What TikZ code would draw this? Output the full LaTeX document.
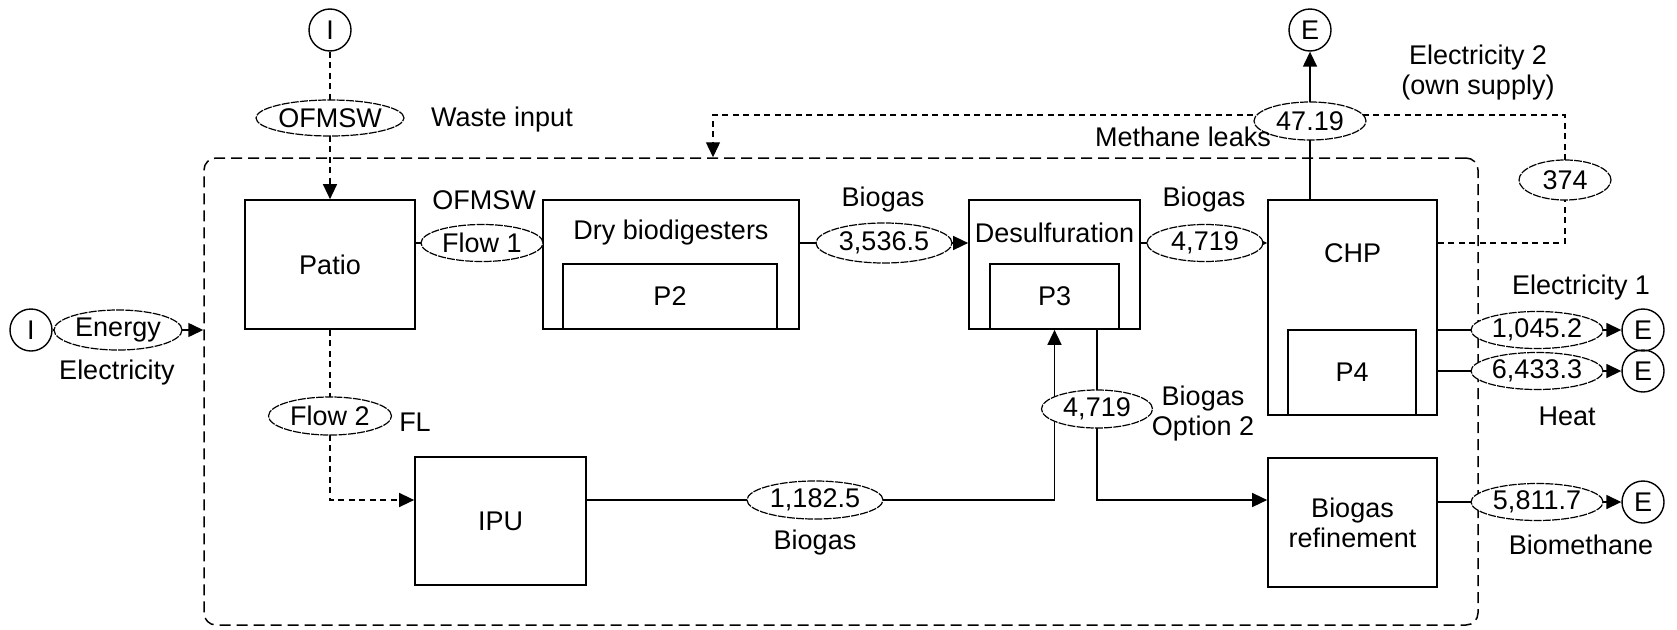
\documentclass[tikz,border=0pt]{standalone}
\usepackage{fontspec}
\setmainfont{Liberation Sans}
\usetikzlibrary{shapes.geometric,arrows.meta,backgrounds}

\begin{document}
\begin{tikzpicture}[x=1pt, y=-1pt,
    font=\fontsize{27}{30}\selectfont,
    every node/.style={align=center, inner sep=0pt},
    unit/.style={draw, line width=1.7pt},
    flowval/.style={ellipse, draw, fill=white, line width=1.2pt, dash pattern=on 8pt off 1.2pt},
    terminal/.style={circle, draw, line width=1.4pt, minimum size=42pt},
    solidflow/.style={line width=1.5pt},
    dashflow/.style={line width=1.4pt, dash pattern=on 6pt off 4.5pt},
    tip/.style={-{Triangle[length=15pt, width=14pt]}}]
  \useasboundingbox (0,0) rectangle (1677,629);

  % plant boundary
  \node[draw, line width=1.5pt, dash pattern=on 11pt off 6pt, rounded corners=12pt,
        minimum width=1274pt, minimum height=467pt] (plant) at (841,391.5) {};

  % process units
  \node[unit, minimum width=170pt, minimum height=129pt] (patio) at (330,264.5) {Patio};
  \node[unit, minimum width=256pt, minimum height=129pt] (dry) at (671,264.5) {};
  \node[unit, minimum width=214pt, minimum height=65pt] (p2) at (670,296.5) {P2};
  \node at (671,233) {Dry biodigesters};
  \node[unit, minimum width=171pt, minimum height=129pt] (desulf) at (1054.5,264.5) {};
  \node[unit, minimum width=129pt, minimum height=65pt] (p3) at (1054.5,296.5) {P3};
  \node at (1054.5,233) {Desulfuration};
  \node[unit, minimum width=169pt, minimum height=215pt] (chp) at (1352.5,307.5) {};
  \node[unit, minimum width=128pt, minimum height=85pt] (p4) at (1352,372.5) {P4};
  \node at (1352.5,253) {CHP};
  \node[unit, minimum width=171pt, minimum height=128pt] (ipu) at (500.5,521) {IPU};
  \node[unit, minimum width=169pt, minimum height=129pt] (refine) at (1352.5,522.5) {Biogas\\refinement};

  % inputs and outputs
  \node[terminal] (inTop) at (330,30) {I};
  \node[terminal] (inLeft) at (31,330) {I};
  \node[terminal] (outTop) at (1310,30) {E};

  % flow values
  \node[flowval, minimum width=148pt, minimum height=36pt] (ofmsw) at (330,118) {OFMSW};
  \node[flowval, minimum width=122pt, minimum height=37pt] (flowA) at (482,243) {Flow 1};
  \node[flowval, minimum width=123pt, minimum height=38pt] (flowB) at (330,416) {Flow 2};
  \node[flowval, minimum width=128pt, minimum height=40pt] (energy) at (118,330) {Energy};
  \node[flowval, minimum width=136pt, minimum height=40pt] (gasA) at (884,243) {3,536.5};
  \node[flowval, minimum width=116pt, minimum height=37pt] (gasB) at (1205,243) {4,719};
  \node[flowval, minimum width=136pt, minimum height=38pt] (gasC) at (815,500) {1,182.5};
  \node[flowval, minimum width=111pt, minimum height=38pt] (gasD) at (1097,409) {4,719};
  \node[flowval, minimum width=112pt, minimum height=38pt] (elecB) at (1310,121) {47.19};
  \node[flowval, minimum width=92pt, minimum height=40pt] (own) at (1565,180) {374};

  % labels
  \node at (502,120) {Waste input};
  \node at (484,200) {OFMSW};
  \node at (117,373) {Electricity};
  \node at (415,422) {FL};
  \node at (883,200) {Biogas};
  \node at (1204,200) {Biogas};
  \node at (815,543) {Biogas};
  \node at (1203,414) {Biogas\\Option 2};
  \node at (1183,137) {Methane leaks};
  \node at (1478,73) {Electricity 2\\(own supply)};
  \node at (1581,288) {Electricity 1};
  \node at (1567,416) {Heat};
  \node at (1581,545) {Biomethane};

  \foreach \src/\nm/\val/\yy in {chp/A/{1,045.2}/330, chp/B/{6,433.3}/371, refine/C/{5,811.7}/502}{
    \node[flowval, minimum width=132pt, minimum height=37pt] (out\nm) at (1537,\yy) {\val};
    \node[terminal] (end\nm) at (1643,\yy) {E};
    \begin{scope}[on background layer]
      \draw[solidflow, tip] (\src.east |- out\nm) -- (end\nm);
    \end{scope}
  }

  \coordinate (leakL) at (713,115);
  \coordinate (leakR) at (own |- leakL);

  \begin{scope}[on background layer]
    \draw[dashflow, tip] (inTop) -- (patio);
    \draw[solidflow] (patio.east |- flowA) -- (dry.west |- flowA);
    \draw[solidflow, tip] (dry.east |- gasA) -- (desulf.west |- gasA);
    \draw[solidflow, tip] (desulf.east |- gasB) -- (chp.west |- gasB);
    \draw[solidflow, tip] (chp.north -| outTop) -- (outTop);
    \draw[dashflow, tip] (patio) |- (ipu.west |- gasC);
    \draw[solidflow, tip] (ipu.east |- gasC) -| (desulf);
    \draw[solidflow, tip] (gasD |- desulf.south) |- (refine.west |- gasC);
    \draw[solidflow, tip] (inLeft) -- (plant.west |- energy);
    \draw[dashflow, tip] (chp.east |- gasB) -| (leakR) -- (leakL) -- (leakL |- plant.north);
  \end{scope}
\end{tikzpicture}
\end{document}
